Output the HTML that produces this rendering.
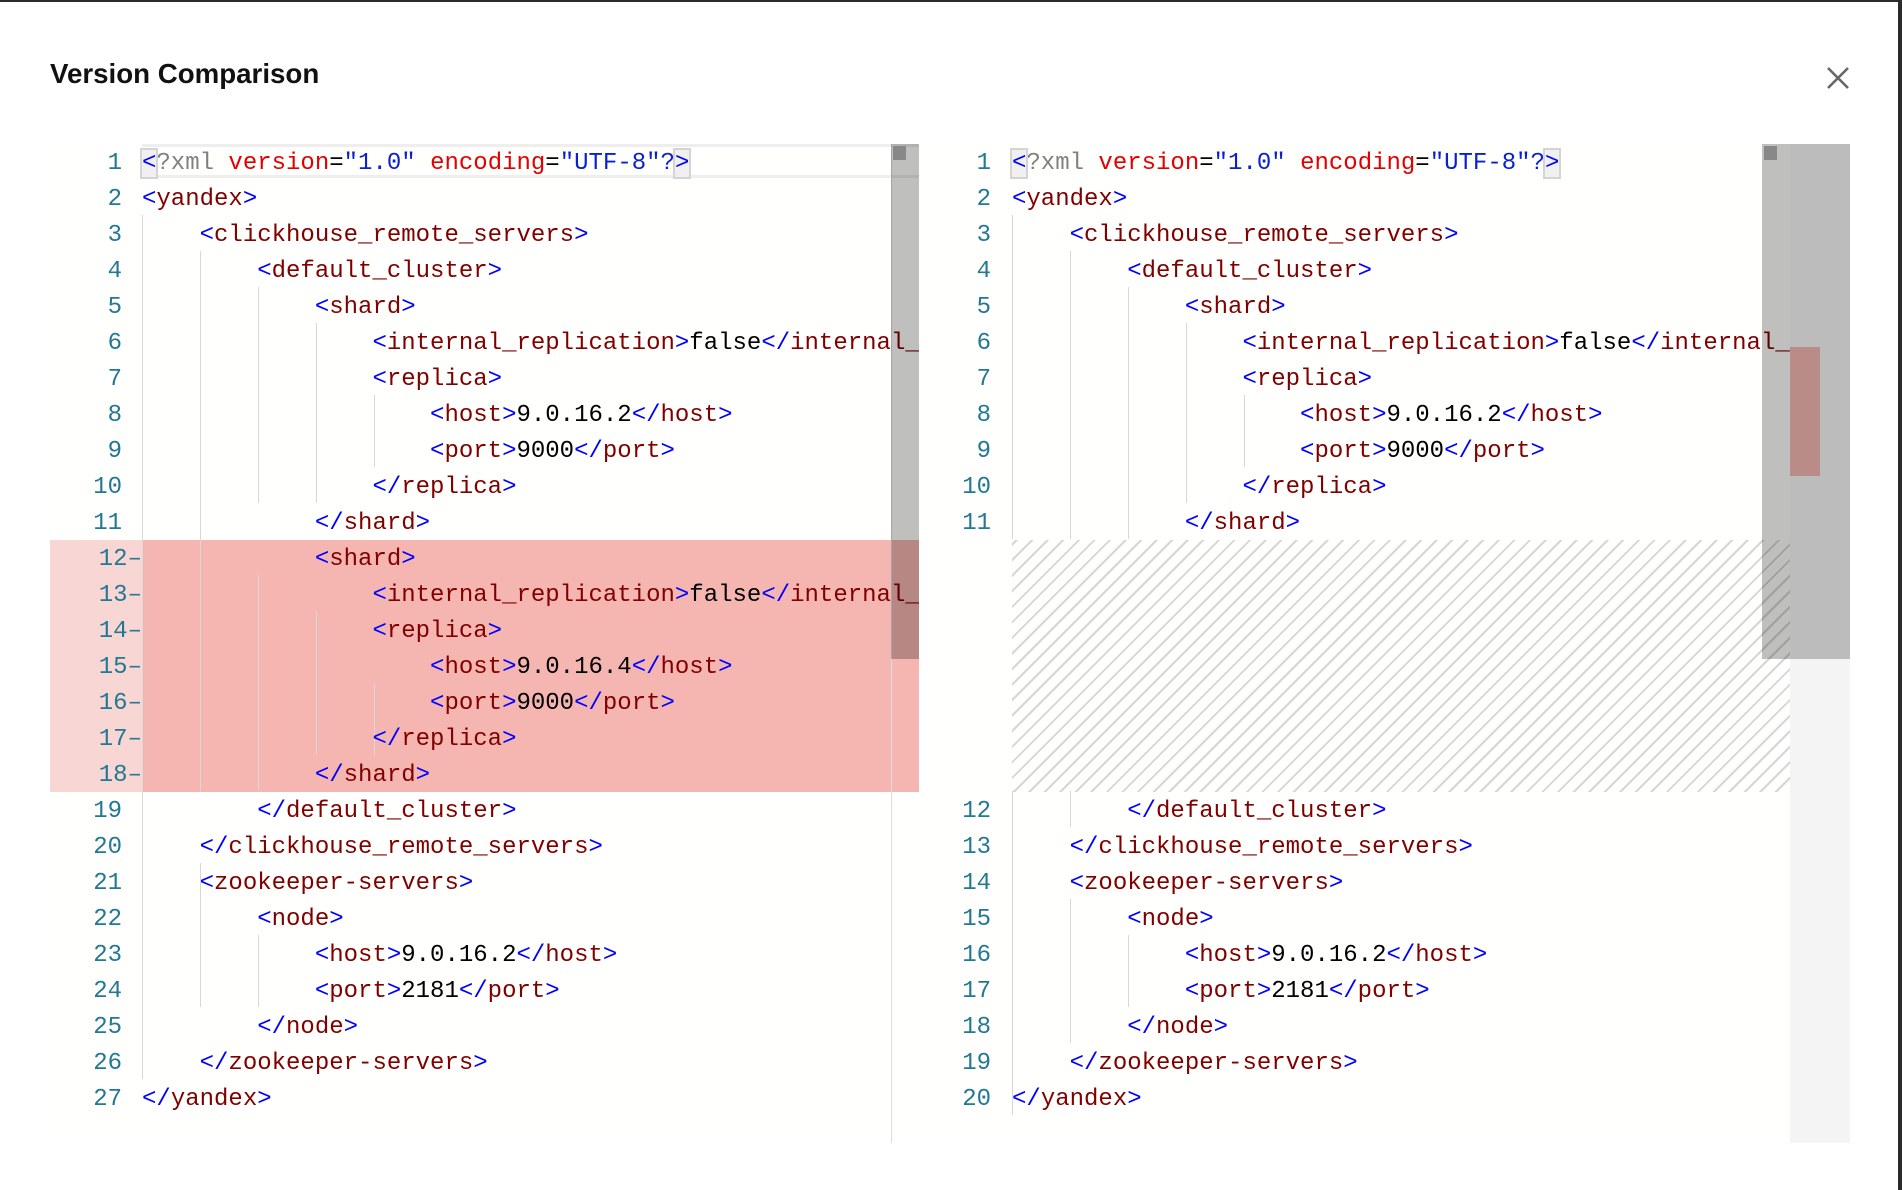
<!DOCTYPE html>
<html><head><meta charset="utf-8">
<style>
html,body{margin:0;padding:0;}
body{width:1902px;height:1190px;background:#2b2b2b;position:relative;overflow:hidden;}
.modal{position:absolute;left:0;top:2px;width:1898px;height:1188px;background:#fff;}
.title{position:absolute;left:50px;top:56px;font:bold 27.7px "Liberation Sans",sans-serif;color:#111;}
.close{position:absolute;left:1822px;top:60px;width:32px;height:32px;}
.ed{position:absolute;top:144px;height:999px;background:#fffffd;overflow:hidden;}
.ln{position:absolute;font:24px/36px "Liberation Mono",monospace;color:#237893;text-align:right;width:60px;margin-top:3px;}
.cl{position:absolute;font:24px/36px "Liberation Mono",monospace;white-space:pre;color:#000;margin-top:3px;}
.b{color:#0000ff}.t{color:#800000}.a{color:#e50000}.v{color:#0a1fd0}.g{color:#808080}
.gd{position:absolute;width:1px;background:#d8d8d8;height:36px;}
.box{outline:2px solid #d4d4d4;background:#f0f0f0;}
</style></head><body>
<div class="modal">
<div class="title">Version Comparison</div>
<svg class="close" viewBox="0 0 32 32"><path d="M6 6L26 26M26 6L6 26" stroke="#666" stroke-width="2.6"/></svg>
</div>

<!-- LEFT EDITOR -->
<div class="ed" style="left:50px;width:869px;">
 <div style="position:absolute;left:0;top:396px;width:92px;height:252px;background:#f8d6d4"></div>
 <div style="position:absolute;left:92px;top:396px;width:777px;height:252px;background:#f5b5b0"></div>
 <div style="position:absolute;left:92px;top:0;width:777px;height:34px;border-top:3px solid #eee;border-bottom:3px solid #eee;box-sizing:border-box"></div>
 <div style="position:absolute;left:841px;top:0;width:1px;height:999px;background:#ddd"></div>
</div>
<div style="position:absolute;left:0;top:0;width:1902px;height:1190px;">
<div class="gd" style="left:142px;top:215px;height:864px"></div>
<div class="gd" style="left:200px;top:251px;height:540px"></div>
<div class="gd" style="left:200px;top:863px;height:144px"></div>
<div class="gd" style="left:258px;top:287px;height:216px"></div>
<div class="gd" style="left:258px;top:575px;height:216px"></div>
<div class="gd" style="left:258px;top:935px;height:72px"></div>
<div class="gd" style="left:316px;top:323px;height:180px"></div>
<div class="gd" style="left:316px;top:611px;height:144px"></div>
<div class="gd" style="left:374px;top:395px;height:72px"></div>
<div class="gd" style="left:374px;top:683px;height:72px"></div>
</div>
<div style="position:absolute;left:0;top:0;width:919px;height:1190px;overflow:hidden;">
<div class="ln" style="left:62px;top:143px">1</div>
<div class="ln" style="left:62px;top:179px">2</div>
<div class="ln" style="left:62px;top:215px">3</div>
<div class="ln" style="left:62px;top:251px">4</div>
<div class="ln" style="left:62px;top:287px">5</div>
<div class="ln" style="left:62px;top:323px">6</div>
<div class="ln" style="left:62px;top:359px">7</div>
<div class="ln" style="left:62px;top:395px">8</div>
<div class="ln" style="left:62px;top:431px">9</div>
<div class="ln" style="left:62px;top:467px">10</div>
<div class="ln" style="left:62px;top:503px">11</div>
<div class="ln" style="left:62px;top:539px;width:80px">12–</div>
<div class="ln" style="left:62px;top:575px;width:80px">13–</div>
<div class="ln" style="left:62px;top:611px;width:80px">14–</div>
<div class="ln" style="left:62px;top:647px;width:80px">15–</div>
<div class="ln" style="left:62px;top:683px;width:80px">16–</div>
<div class="ln" style="left:62px;top:719px;width:80px">17–</div>
<div class="ln" style="left:62px;top:755px;width:80px">18–</div>
<div class="ln" style="left:62px;top:791px">19</div>
<div class="ln" style="left:62px;top:827px">20</div>
<div class="ln" style="left:62px;top:863px">21</div>
<div class="ln" style="left:62px;top:899px">22</div>
<div class="ln" style="left:62px;top:935px">23</div>
<div class="ln" style="left:62px;top:971px">24</div>
<div class="ln" style="left:62px;top:1007px">25</div>
<div class="ln" style="left:62px;top:1043px">26</div>
<div class="ln" style="left:62px;top:1079px">27</div>

<div class="cl" style="left:142px;top:143px"><span class="b box">&lt;</span><span class="g">?xml</span> <span class="a">version</span>=<span class="v">"1.0"</span> <span class="a">encoding</span>=<span class="v">"UTF-8"</span><span class="v">?</span><span class="b box">&gt;</span></div>
<div class="cl" style="left:142px;top:179px"><span class="b">&lt;</span><span class="t">yandex</span><span class="b">&gt;</span></div>
<div class="cl" style="left:142px;top:215px">    <span class="b">&lt;</span><span class="t">clickhouse_remote_servers</span><span class="b">&gt;</span></div>
<div class="cl" style="left:142px;top:251px">        <span class="b">&lt;</span><span class="t">default_cluster</span><span class="b">&gt;</span></div>
<div class="cl" style="left:142px;top:287px">            <span class="b">&lt;</span><span class="t">shard</span><span class="b">&gt;</span></div>
<div class="cl" style="left:142px;top:323px">                <span class="b">&lt;</span><span class="t">internal_replication</span><span class="b">&gt;</span>false<span class="b">&lt;/</span><span class="t">internal_replication</span><span class="b">&gt;</span></div>
<div class="cl" style="left:142px;top:359px">                <span class="b">&lt;</span><span class="t">replica</span><span class="b">&gt;</span></div>
<div class="cl" style="left:142px;top:395px">                    <span class="b">&lt;</span><span class="t">host</span><span class="b">&gt;</span>9.0.16.2<span class="b">&lt;/</span><span class="t">host</span><span class="b">&gt;</span></div>
<div class="cl" style="left:142px;top:431px">                    <span class="b">&lt;</span><span class="t">port</span><span class="b">&gt;</span>9000<span class="b">&lt;/</span><span class="t">port</span><span class="b">&gt;</span></div>
<div class="cl" style="left:142px;top:467px">                <span class="b">&lt;/</span><span class="t">replica</span><span class="b">&gt;</span></div>
<div class="cl" style="left:142px;top:503px">            <span class="b">&lt;/</span><span class="t">shard</span><span class="b">&gt;</span></div>
<div class="cl" style="left:142px;top:539px">            <span class="b">&lt;</span><span class="t">shard</span><span class="b">&gt;</span></div>
<div class="cl" style="left:142px;top:575px">                <span class="b">&lt;</span><span class="t">internal_replication</span><span class="b">&gt;</span>false<span class="b">&lt;/</span><span class="t">internal_replication</span><span class="b">&gt;</span></div>
<div class="cl" style="left:142px;top:611px">                <span class="b">&lt;</span><span class="t">replica</span><span class="b">&gt;</span></div>
<div class="cl" style="left:142px;top:647px">                    <span class="b">&lt;</span><span class="t">host</span><span class="b">&gt;</span>9.0.16.4<span class="b">&lt;/</span><span class="t">host</span><span class="b">&gt;</span></div>
<div class="cl" style="left:142px;top:683px">                    <span class="b">&lt;</span><span class="t">port</span><span class="b">&gt;</span>9000<span class="b">&lt;/</span><span class="t">port</span><span class="b">&gt;</span></div>
<div class="cl" style="left:142px;top:719px">                <span class="b">&lt;/</span><span class="t">replica</span><span class="b">&gt;</span></div>
<div class="cl" style="left:142px;top:755px">            <span class="b">&lt;/</span><span class="t">shard</span><span class="b">&gt;</span></div>
<div class="cl" style="left:142px;top:791px">        <span class="b">&lt;/</span><span class="t">default_cluster</span><span class="b">&gt;</span></div>
<div class="cl" style="left:142px;top:827px">    <span class="b">&lt;/</span><span class="t">clickhouse_remote_servers</span><span class="b">&gt;</span></div>
<div class="cl" style="left:142px;top:863px">    <span class="b">&lt;</span><span class="t">zookeeper-servers</span><span class="b">&gt;</span></div>
<div class="cl" style="left:142px;top:899px">        <span class="b">&lt;</span><span class="t">node</span><span class="b">&gt;</span></div>
<div class="cl" style="left:142px;top:935px">            <span class="b">&lt;</span><span class="t">host</span><span class="b">&gt;</span>9.0.16.2<span class="b">&lt;/</span><span class="t">host</span><span class="b">&gt;</span></div>
<div class="cl" style="left:142px;top:971px">            <span class="b">&lt;</span><span class="t">port</span><span class="b">&gt;</span>2181<span class="b">&lt;/</span><span class="t">port</span><span class="b">&gt;</span></div>
<div class="cl" style="left:142px;top:1007px">        <span class="b">&lt;/</span><span class="t">node</span><span class="b">&gt;</span></div>
<div class="cl" style="left:142px;top:1043px">    <span class="b">&lt;/</span><span class="t">zookeeper-servers</span><span class="b">&gt;</span></div>
<div class="cl" style="left:142px;top:1079px"><span class="b">&lt;/</span><span class="t">yandex</span><span class="b">&gt;</span></div>
</div>
<div style="position:absolute;left:891px;top:144px;width:28px;height:515px;background:rgba(0,0,0,0.25)"></div>
<div style="position:absolute;left:893px;top:146px;width:13px;height:14px;background:#888"></div>

<!-- RIGHT EDITOR -->
<div class="ed" style="left:920px;width:930px;background:#fffffd">
 <div style="position:absolute;left:92px;top:396px;width:778px;height:252px;background:repeating-linear-gradient(-45deg,#fffffd 0px,#fffffd 9px,#d6d6d6 9px,#d6d6d6 11px)"></div>
 <div style="position:absolute;left:870px;top:0;width:60px;height:999px;background:#f4f4f4"></div>
</div>
<div style="position:absolute;left:0;top:0;width:1902px;height:1190px;">
<div class="gd" style="left:1012px;top:215px;height:324px"></div>
<div class="gd" style="left:1012px;top:791px;height:324px"></div>
<div class="gd" style="left:1070px;top:251px;height:288px"></div>
<div class="gd" style="left:1070px;top:791px;height:36px"></div>
<div class="gd" style="left:1070px;top:899px;height:144px"></div>
<div class="gd" style="left:1128px;top:287px;height:252px"></div>
<div class="gd" style="left:1128px;top:935px;height:72px"></div>
<div class="gd" style="left:1186px;top:323px;height:180px"></div>
<div class="gd" style="left:1244px;top:395px;height:72px"></div>
</div>
<div style="position:absolute;left:920px;top:0;width:870px;height:1190px;overflow:hidden;">
<div style="position:absolute;left:-920px;top:0;width:1902px;height:1190px;">
<div class="ln" style="left:931px;top:143px">1</div>
<div class="ln" style="left:931px;top:179px">2</div>
<div class="ln" style="left:931px;top:215px">3</div>
<div class="ln" style="left:931px;top:251px">4</div>
<div class="ln" style="left:931px;top:287px">5</div>
<div class="ln" style="left:931px;top:323px">6</div>
<div class="ln" style="left:931px;top:359px">7</div>
<div class="ln" style="left:931px;top:395px">8</div>
<div class="ln" style="left:931px;top:431px">9</div>
<div class="ln" style="left:931px;top:467px">10</div>
<div class="ln" style="left:931px;top:503px">11</div>
<div class="ln" style="left:931px;top:791px">12</div>
<div class="ln" style="left:931px;top:827px">13</div>
<div class="ln" style="left:931px;top:863px">14</div>
<div class="ln" style="left:931px;top:899px">15</div>
<div class="ln" style="left:931px;top:935px">16</div>
<div class="ln" style="left:931px;top:971px">17</div>
<div class="ln" style="left:931px;top:1007px">18</div>
<div class="ln" style="left:931px;top:1043px">19</div>
<div class="ln" style="left:931px;top:1079px">20</div>

<div class="cl" style="left:1012px;top:143px"><span class="b box">&lt;</span><span class="g">?xml</span> <span class="a">version</span>=<span class="v">"1.0"</span> <span class="a">encoding</span>=<span class="v">"UTF-8"</span><span class="v">?</span><span class="b box">&gt;</span></div>
<div class="cl" style="left:1012px;top:179px"><span class="b">&lt;</span><span class="t">yandex</span><span class="b">&gt;</span></div>
<div class="cl" style="left:1012px;top:215px">    <span class="b">&lt;</span><span class="t">clickhouse_remote_servers</span><span class="b">&gt;</span></div>
<div class="cl" style="left:1012px;top:251px">        <span class="b">&lt;</span><span class="t">default_cluster</span><span class="b">&gt;</span></div>
<div class="cl" style="left:1012px;top:287px">            <span class="b">&lt;</span><span class="t">shard</span><span class="b">&gt;</span></div>
<div class="cl" style="left:1012px;top:323px">                <span class="b">&lt;</span><span class="t">internal_replication</span><span class="b">&gt;</span>false<span class="b">&lt;/</span><span class="t">internal_replication</span><span class="b">&gt;</span></div>
<div class="cl" style="left:1012px;top:359px">                <span class="b">&lt;</span><span class="t">replica</span><span class="b">&gt;</span></div>
<div class="cl" style="left:1012px;top:395px">                    <span class="b">&lt;</span><span class="t">host</span><span class="b">&gt;</span>9.0.16.2<span class="b">&lt;/</span><span class="t">host</span><span class="b">&gt;</span></div>
<div class="cl" style="left:1012px;top:431px">                    <span class="b">&lt;</span><span class="t">port</span><span class="b">&gt;</span>9000<span class="b">&lt;/</span><span class="t">port</span><span class="b">&gt;</span></div>
<div class="cl" style="left:1012px;top:467px">                <span class="b">&lt;/</span><span class="t">replica</span><span class="b">&gt;</span></div>
<div class="cl" style="left:1012px;top:503px">            <span class="b">&lt;/</span><span class="t">shard</span><span class="b">&gt;</span></div>
<div class="cl" style="left:1012px;top:791px">        <span class="b">&lt;/</span><span class="t">default_cluster</span><span class="b">&gt;</span></div>
<div class="cl" style="left:1012px;top:827px">    <span class="b">&lt;/</span><span class="t">clickhouse_remote_servers</span><span class="b">&gt;</span></div>
<div class="cl" style="left:1012px;top:863px">    <span class="b">&lt;</span><span class="t">zookeeper-servers</span><span class="b">&gt;</span></div>
<div class="cl" style="left:1012px;top:899px">        <span class="b">&lt;</span><span class="t">node</span><span class="b">&gt;</span></div>
<div class="cl" style="left:1012px;top:935px">            <span class="b">&lt;</span><span class="t">host</span><span class="b">&gt;</span>9.0.16.2<span class="b">&lt;/</span><span class="t">host</span><span class="b">&gt;</span></div>
<div class="cl" style="left:1012px;top:971px">            <span class="b">&lt;</span><span class="t">port</span><span class="b">&gt;</span>2181<span class="b">&lt;/</span><span class="t">port</span><span class="b">&gt;</span></div>
<div class="cl" style="left:1012px;top:1007px">        <span class="b">&lt;/</span><span class="t">node</span><span class="b">&gt;</span></div>
<div class="cl" style="left:1012px;top:1043px">    <span class="b">&lt;/</span><span class="t">zookeeper-servers</span><span class="b">&gt;</span></div>
<div class="cl" style="left:1012px;top:1079px"><span class="b">&lt;/</span><span class="t">yandex</span><span class="b">&gt;</span></div>
</div>
</div>
<div style="position:absolute;left:1762px;top:144px;width:28px;height:515px;background:rgba(0,0,0,0.25)"></div>
<div style="position:absolute;left:1764px;top:146px;width:13px;height:14px;background:#888"></div>
<div style="position:absolute;left:1790px;top:144px;width:60px;height:515px;background:#bcbcbc"></div>
<div style="position:absolute;left:1790px;top:347px;width:30px;height:129px;background:#b98c88"></div>
</body></html>
